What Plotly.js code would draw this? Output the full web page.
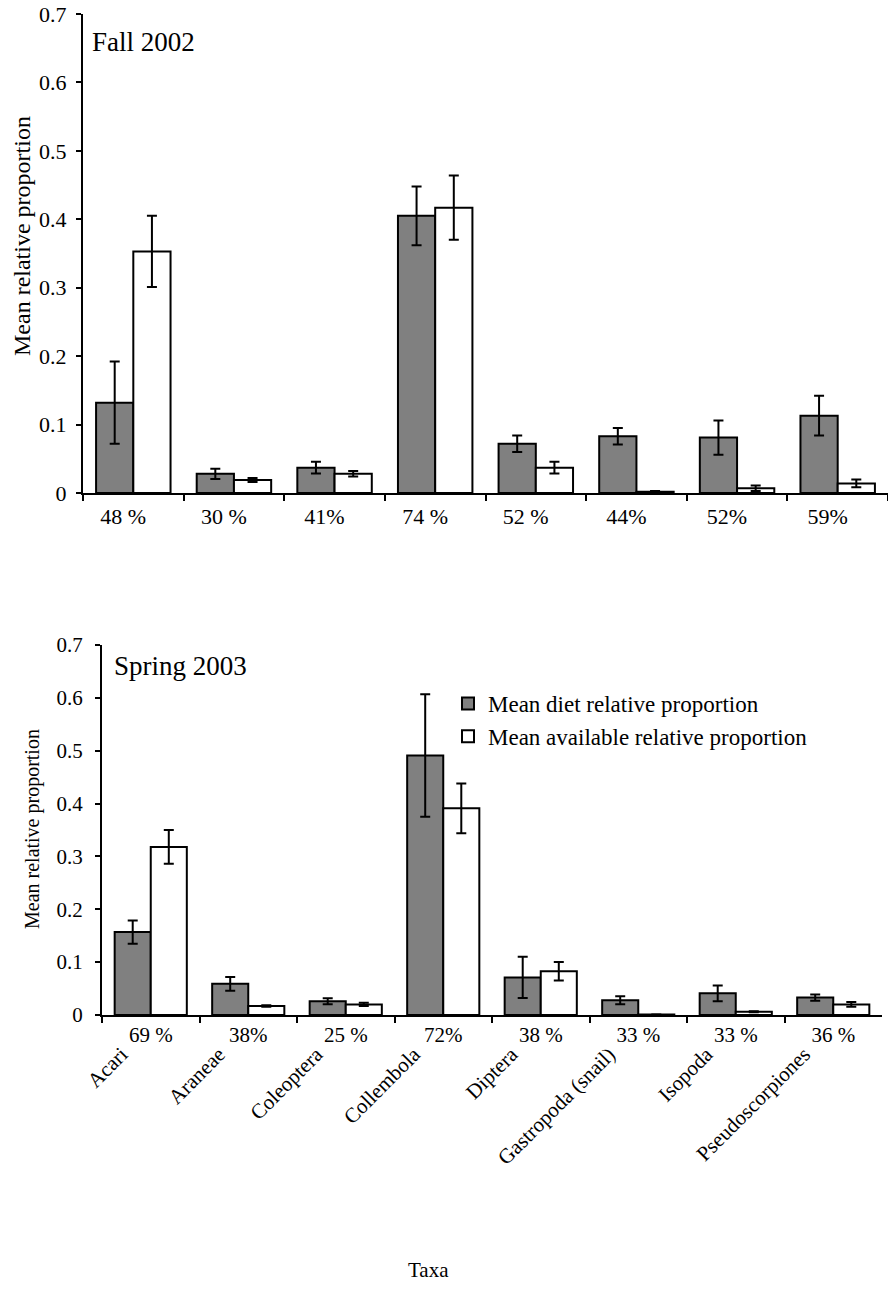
<!DOCTYPE html>
<html>
<head>
<meta charset="utf-8">
<script src="https://cdn.plot.ly/plotly-3.0.1.min.js"></script>
<style>
  html, body { margin: 0; padding: 0; background: #fff; }
  #chart { width: 888px; height: 1298px; }
</style>
</head>
<body>
<div id="chart"></div>
<script>
// Taxa shared by both seasons
const taxa = ["Acari", "Araneae", "Coleoptera", "Collembola", "Diptera",
              "Gastropoda (snail)", "Isopoda", "Pseudoscorpiones"];

// Fall 2002
const fallPct = ["48 %", "30 %", "41%", "74 %", "52 %", "44%", "52%", "59%"];
const fallDiet = [0.132, 0.028, 0.037, 0.405, 0.072, 0.083, 0.081, 0.113];
const fallDietErr = [0.060, 0.0075, 0.0085, 0.043, 0.012, 0.012, 0.025, 0.029];
const fallAvail = [0.353, 0.019, 0.028, 0.417, 0.037, 0.002, 0.007, 0.014];
const fallAvailErr = [0.052, 0.003, 0.004, 0.047, 0.0085, 0.001, 0.004, 0.0056];

// Spring 2003
const springPct = ["69 %", "38%", "25 %", "72%", "38 %", "33 %", "33 %", "36 %"];
const springDiet = [0.157, 0.059, 0.026, 0.491, 0.071, 0.028, 0.041, 0.033];
const springDietErr = [0.022, 0.013, 0.0057, 0.116, 0.039, 0.0075, 0.015, 0.006];
const springAvail = [0.318, 0.017, 0.020, 0.391, 0.083, 0.001, 0.006, 0.020];
const springAvailErr = [0.032, 0.0015, 0.003, 0.047, 0.0175, 0, 0.001, 0.0045];

const yTicks = [0, 0.1, 0.2, 0.3, 0.4, 0.5, 0.6, 0.7];

const FONT = "Liberation Serif, Times New Roman, serif";
const DIET_FILL = "#808080";
const AVAIL_FILL = "#ffffff";

function errBars(arr) {
  return { type: "data", array: arr, visible: true, color: "#000", thickness: 2, width: 5 };
}

function barTrace(vals, errs, name, fill, xa, ya, show) {
  return {
    type: "bar", x: taxa, y: vals, name: name, xaxis: xa, yaxis: ya,
    marker: { color: fill, line: { color: "#000", width: 2 } },
    error_y: errBars(errs),
    showlegend: show, legendgroup: name, hoverinfo: "skip"
  };
}

// invisible carrier so a label-only overlay axis gets drawn
function labelCarrier(xa, ya) {
  return { type: "scatter", mode: "markers", x: taxa, y: taxa.map(() => null),
           xaxis: xa, yaxis: ya, showlegend: false, hoverinfo: "skip" };
}

const data = [
  barTrace(fallDiet, fallDietErr, "Mean diet relative proportion", DIET_FILL, "x", "y", false),
  barTrace(fallAvail, fallAvailErr, "Mean available relative proportion", AVAIL_FILL, "x", "y", false),
  barTrace(springDiet, springDietErr, "Mean diet relative proportion", DIET_FILL, "x2", "y2", true),
  barTrace(springAvail, springAvailErr, "Mean available relative proportion", AVAIL_FILL, "x2", "y2", true),
  labelCarrier("x3", "y2"),
  labelCarrier("x4", "y")
];

function yAxis(domain, anchor, size, standoff) {
  return {
    domain: domain, anchor: anchor, range: [0, 0.7],
    tickvals: yTicks, ticktext: yTicks.map(v => String(v)),
    ticks: "outside", ticklen: 5, tickwidth: 2, tickcolor: "#000",
    ticklabelstandoff: standoff,
    showline: true, linecolor: "#000", linewidth: 2,
    showgrid: false, zeroline: false, automargin: false,
    tickfont: { family: FONT, size: size, color: "#000" }
  };
}

function catAxis(domain, anchor, pct, size, showLabels) {
  return {
    domain: domain, anchor: anchor, type: "category",
    categoryarray: taxa, range: [-0.5, 7.5],
    tickvals: taxa, ticktext: pct, tickson: "boundaries",
    showticklabels: showLabels,
    ticks: "outside", ticklen: 6, tickwidth: 2, tickcolor: "#000",
    showline: true, linecolor: "#000", linewidth: 2,
    showgrid: false, zeroline: false, automargin: false,
    tickfont: { family: FONT, size: size, color: "#000" }
  };
}

const H = 1298, W = 888;
const py = px => 1 - px / H;
const pxX = px => px / W;

const layout = {
  width: W, height: H,
  margin: { l: 0, r: 0, t: 0, b: 0 },
  paper_bgcolor: "#fff", plot_bgcolor: "#fff",
  barmode: "group", bargap: 0.26, bargroupgap: 0,
  font: { family: FONT, color: "#000" },
  xaxis: catAxis([pxX(83), 1], "y", fallPct, 22, false),
  yaxis: yAxis([py(493), py(14)], "x", 22, 5),
  xaxis2: catAxis([pxX(102), pxX(882)], "y2", springPct, 21, true),
  yaxis2: yAxis([py(1015), py(645)], "x2", 21, 8),
  // percentage labels of the upper panel, set slightly left of centre
  xaxis4: {
    overlaying: "x", anchor: "y", type: "category",
    categoryarray: taxa, range: [-0.4, 7.6],
    tickvals: taxa, ticktext: fallPct,
    showline: false, ticks: "", showgrid: false, zeroline: false,
    ticklabelstandoff: 8, automargin: false,
    tickfont: { family: FONT, size: 22, color: "#000" }
  },
  // rotated taxon names under the lower panel
  xaxis3: {
    overlaying: "x2", anchor: "y2", type: "category",
    categoryarray: taxa, range: [-0.2, 7.8],
    showline: false, ticks: "", showgrid: false, zeroline: false,
    tickangle: -45, ticklabelstandoff: 22, automargin: false,
    tickfont: { family: FONT, size: 21, color: "#000" }
  },
  showlegend: true,
  legend: {
    x: pxX(448), y: py(682), xanchor: "left", yanchor: "top",
    bgcolor: "rgba(0,0,0,0)", borderwidth: 0,
    traceorder: "grouped", tracegroupgap: 0,
    font: { family: FONT, size: 23, color: "#000" }
  },
  annotations: [
    { text: "Fall 2002", xref: "paper", yref: "paper", x: pxX(90), y: py(42),
      xanchor: "left", yanchor: "middle", showarrow: false,
      font: { family: FONT, size: 27, color: "#000" } },
    { text: "Spring 2003", xref: "paper", yref: "paper", x: pxX(112), y: py(666),
      xanchor: "left", yanchor: "middle", showarrow: false,
      font: { family: FONT, size: 27, color: "#000" } },
    { text: "Mean relative proportion", xref: "paper", yref: "paper",
      x: pxX(22), y: py(236), textangle: -90, xanchor: "center", yanchor: "middle",
      showarrow: false, font: { family: FONT, size: 24, color: "#000" } },
    { text: "Mean relative proportion", xref: "paper", yref: "paper",
      x: pxX(32), y: py(829), textangle: -90, xanchor: "center", yanchor: "middle",
      showarrow: false, font: { family: FONT, size: 20, color: "#000" } },
    { text: "Taxa", xref: "paper", yref: "paper", x: pxX(428), y: py(1270),
      xanchor: "center", yanchor: "middle", showarrow: false,
      font: { family: FONT, size: 21, color: "#000" } }
  ]
};

Plotly.newPlot("chart", data, layout, { displayModeBar: false, staticPlot: true });
</script>
</body>
</html>
